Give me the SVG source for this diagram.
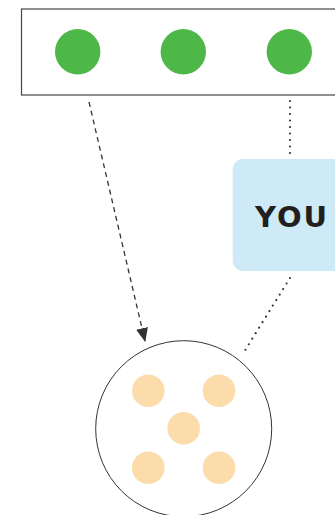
<svg xmlns="http://www.w3.org/2000/svg" width="335" height="515" viewBox="0 0 335 515">
<style>
.green{fill:#4db848}
.orange{fill:#fddcab}
.dots{fill:none;stroke:#333;stroke-width:2.2;stroke-dasharray:0 6.5;stroke-linecap:round}
.dash{fill:none;stroke:#333;stroke-width:1.3;stroke-dasharray:5 4}
.label{font-family:"DejaVu Sans",sans-serif;font-weight:bold;font-size:29px;fill:#231f20;letter-spacing:2px}
</style>
<defs>
<marker id="arrow" markerWidth="14" markerHeight="12" refX="13" refY="6" orient="auto" markerUnits="userSpaceOnUse">
<path d="M0,0 L14,6 L0,12 Z" fill="#333"/>
</marker>
</defs>
<rect width="335" height="515" fill="#fff"/>
<g id="source">
<rect x="21.5" y="9" width="330" height="86" fill="#fff" stroke="#444" stroke-width="1.2"/>
<circle class="green" cx="77.7" cy="51.7" r="22.7"/>
<circle class="green" cx="183.3" cy="51.7" r="22.7"/>
<circle class="green" cx="289.3" cy="51.7" r="22.7"/>
</g>
<g id="you">
<rect x="232.7" y="159" width="120" height="112" rx="10" fill="#cdeaf6"/>
<text class="label" x="255" y="227">YOU</text>
</g>
<g id="target">
<circle cx="183.7" cy="428.7" r="88" fill="#fff" stroke="#333" stroke-width="1"/>
<circle class="orange" cx="148.3" cy="390.7" r="16.3"/>
<circle class="orange" cx="219" cy="390.7" r="16.3"/>
<circle class="orange" cx="183.7" cy="428.3" r="16.3"/>
<circle class="orange" cx="148.3" cy="467.7" r="16.3"/>
<circle class="orange" cx="219" cy="467.7" r="16.3"/>
</g>
<g id="connectors">
<path class="dash" d="M89,102 L145,341" marker-end="url(#arrow)"/>
<path class="dots" d="M290,101 L290,154"/>
<path class="dots" d="M290,278 L244,352"/>
</g>
</svg>
